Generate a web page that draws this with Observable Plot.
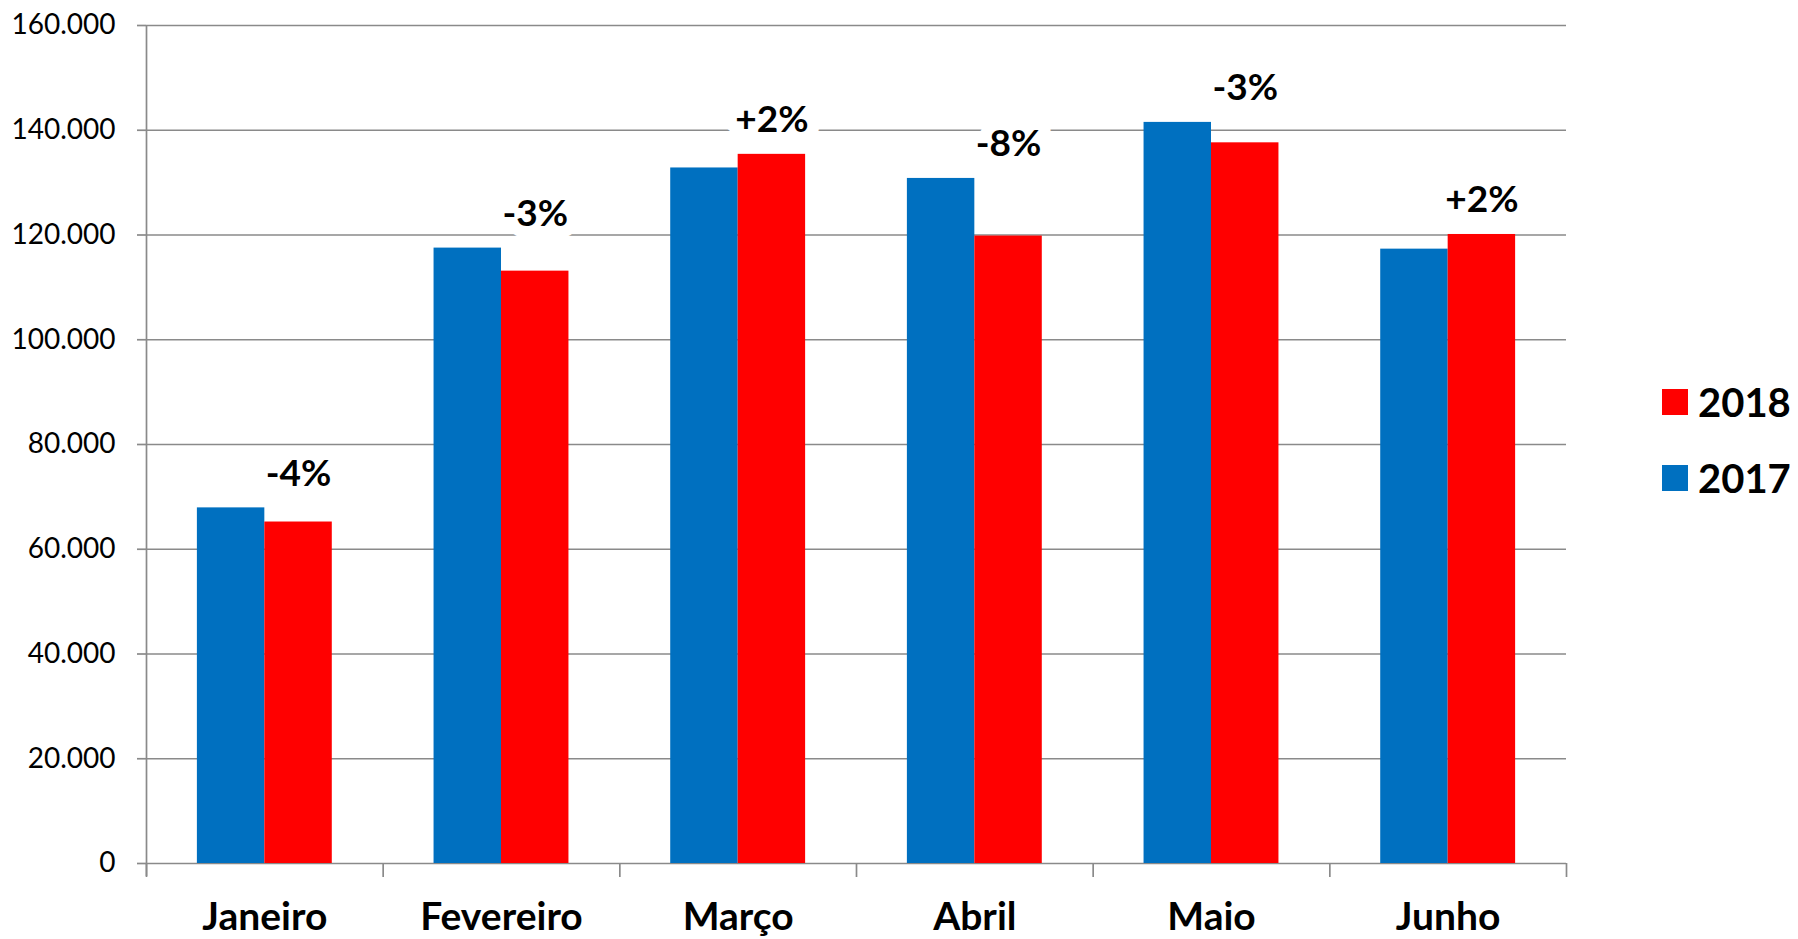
<!DOCTYPE html>
<html>
<head>
<meta charset="utf-8">
<script src="https://cdn.jsdelivr.net/npm/d3@7"></script>
<script src="https://cdn.jsdelivr.net/npm/@observablehq/plot@0.6"></script>
<style>
  html, body { margin: 0; padding: 0; background: #fff; }
  #wrap { position: relative; width: 1798px; height: 939px; }
  #legend { position: absolute; left: 1662px; top: 379px; }
  #legend .lg-swatch { display: flex; align-items: center; margin-bottom: 29px; line-height: 46px; }
  #legend .lg-swatch > svg { margin-right: 10px; }
</style>
</head>
<body>
<div id="wrap"></div>
<script>
// ---- data ----
const months = ["Janeiro", "Fevereiro", "Março", "Abril", "Maio", "Junho"];
const values2017 = [67900, 117500, 132800, 130800, 141500, 117300];
const values2018 = [65200, 113100, 135400, 119800, 137600, 120100];
const changeLabels = ["-4%", "-3%", "+2%", "-8%", "-3%", "+2%"];
const legendYears = ["2018", "2017"];
const legendColors = ["#FF0000", "#0070C0"];
const yTicks = [0, 20000, 40000, 60000, 80000, 100000, 120000, 140000, 160000];

// ---- table built from the arrays ----
const rows = months.map((m, i) => ({i, month: m, v2017: values2017[i], v2018: values2018[i], label: changeLabels[i]}));

const BAR = 0.285;        // bar width as fraction of category
const gray = "#8a8a8a";
const fmt = d3.formatLocale({decimal: ",", thousands: ".", grouping: [3], currency: ["", ""]}).format(",d");

const chart = Plot.plot({
  width: 1798,
  height: 939,
  marginLeft: 146,
  marginRight: 232,
  marginTop: 25,
  marginBottom: 76,
  style: {fontFamily: "Lato, 'Open Sans', sans-serif", background: "#fff", color: "#000"},
  x: {type: "linear", domain: [0, months.length]},
  y: {domain: [0, 160000]},
  marks: [
    Plot.gridY(yTicks, {stroke: gray, strokeOpacity: 1, strokeWidth: 1.7}),
    Plot.rectY(rows, {x1: d => d.i + 0.5 - BAR, x2: d => d.i + 0.5, y1: 0, y2: "v2017", fill: legendColors[1]}),
    Plot.rectY(rows, {x1: d => d.i + 0.5, x2: d => d.i + 0.5 + BAR, y1: 0, y2: "v2018", fill: legendColors[0]}),
    Plot.ruleX([0], {stroke: gray, strokeWidth: 1.7, insetBottom: -13}),
    Plot.axisY({ticks: yTicks, tickSize: 9, tickPadding: 22, tickFormat: fmt, fontSize: 28, stroke: gray, strokeWidth: 1.7, strokeOpacity: 1, fill: "#000", label: null}),
    Plot.axisX({ticks: d3.range(0, months.length + 1), tickSize: 14, tickFormat: () => "", stroke: gray, strokeWidth: 1.7, strokeOpacity: 1, label: null}),
    Plot.axisX({ticks: months.map((m, i) => i + 0.5), tickFormat: v => months[Math.floor(v)], tickSize: 0, tickPadding: 39, fontSize: 39, fontWeight: "bold", fill: "#000", label: null}),
    Plot.text(rows, {
      x: d => d.i + 0.5 + BAR / 2,
      y: d => Math.max(d.v2017, d.v2018),
      text: "label",
      dy: -34,
      fontSize: 37,
      fontWeight: "bold",
      fill: "#000",
      stroke: "#fff",
      strokeWidth: 24,
      strokeLinejoin: "round",
      paintOrder: "stroke"
    })
  ]
});

const wrap = document.getElementById("wrap");
wrap.appendChild(chart);

const legend = Plot.legend({
  color: {type: "ordinal", domain: legendYears, range: legendColors},
  legend: "swatches",
  columns: 1,
  swatchSize: 26,
  className: "lg",
  style: {fontFamily: "Lato, 'Open Sans', sans-serif", fontSize: "40px", fontWeight: "bold", color: "#000"}
});
const holder = document.createElement("div");
holder.id = "legend";
holder.appendChild(legend);
wrap.appendChild(holder);
</script>
</body>
</html>
